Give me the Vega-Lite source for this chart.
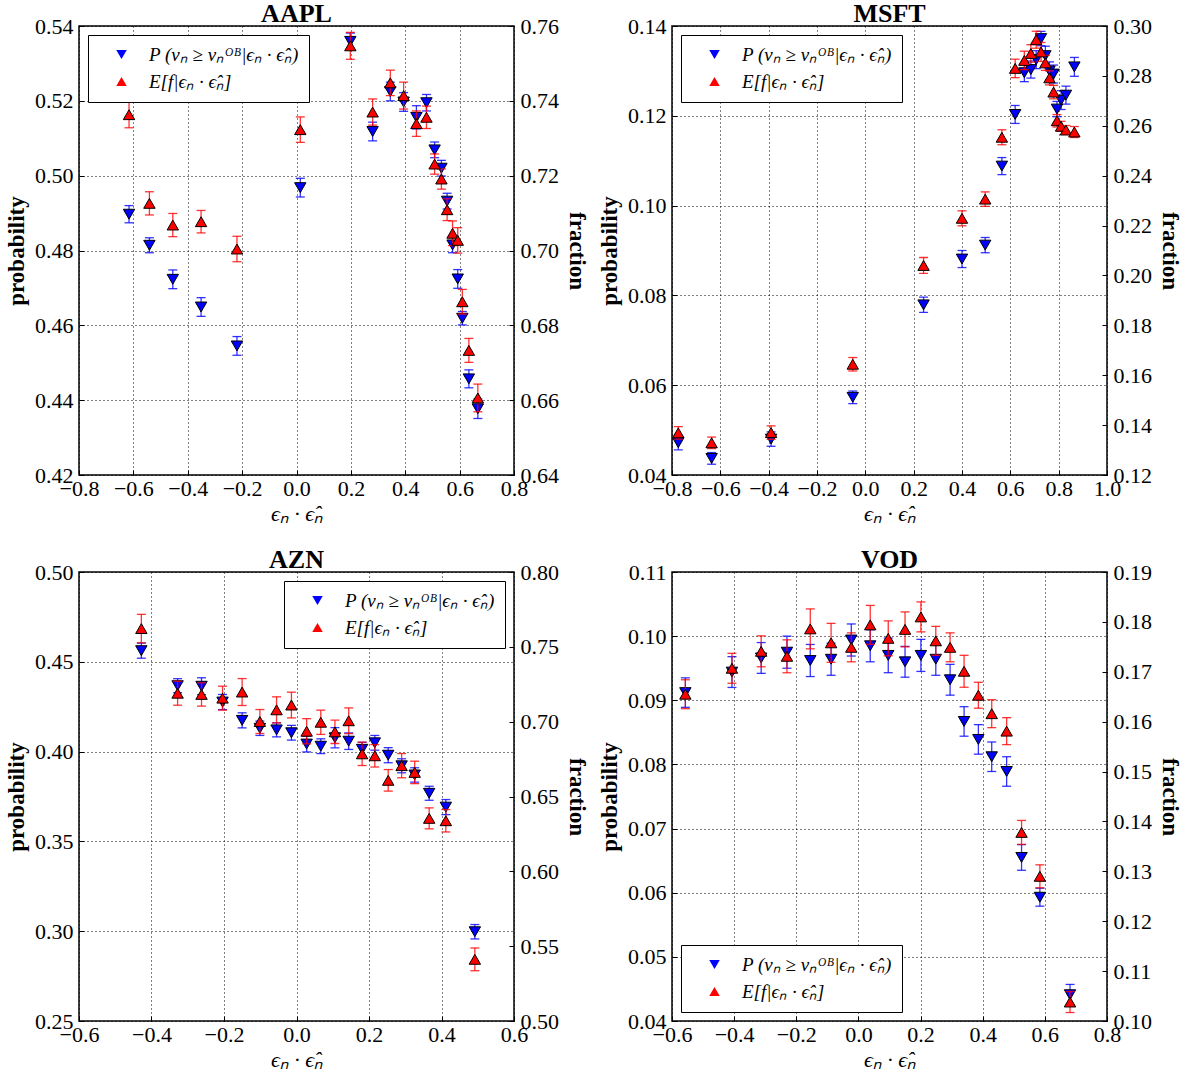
{
"$schema":"https://vega.github.io/schema/vega-lite/v6.json",
"background":"white",
"padding":{"left":4,"top":0,"right":5,"bottom":5},
"datasets":{
"aapl":[
{"x":-0.616,"s":"P","v":0.4897,"e":0.0023},{"x":-0.616,"s":"E","v":0.7363,"e":0.0035},
{"x":-0.541,"s":"P","v":0.4814,"e":0.0020},{"x":-0.541,"s":"E","v":0.7126,"e":0.0031},
{"x":-0.455,"s":"P","v":0.4723,"e":0.0025},{"x":-0.455,"s":"E","v":0.7068,"e":0.0031},
{"x":-0.351,"s":"P","v":0.4649,"e":0.0025},{"x":-0.351,"s":"E","v":0.7077,"e":0.0030},
{"x":-0.219,"s":"P","v":0.4545,"e":0.0025},{"x":-0.219,"s":"E","v":0.7004,"e":0.0034},
{"x":0.014,"s":"P","v":0.4968,"e":0.0025},{"x":0.014,"s":"E","v":0.7323,"e":0.0034},
{"x":0.198,"s":"P","v":0.5359,"e":0.0022},{"x":0.198,"s":"E","v":0.7547,"e":0.0036},
{"x":0.280,"s":"P","v":0.5118,"e":0.0025},{"x":0.280,"s":"E","v":0.7370,"e":0.0035},
{"x":0.345,"s":"P","v":0.5225,"e":0.0025},{"x":0.345,"s":"E","v":0.7448,"e":0.0034},
{"x":0.394,"s":"P","v":0.5197,"e":0.0025},{"x":0.394,"s":"E","v":0.7414,"e":0.0036},
{"x":0.441,"s":"P","v":0.5156,"e":0.0031},{"x":0.441,"s":"E","v":0.7339,"e":0.0034},
{"x":0.478,"s":"P","v":0.5195,"e":0.0022},{"x":0.478,"s":"E","v":0.7356,"e":0.0030},
{"x":0.508,"s":"P","v":0.5069,"e":0.0021},{"x":0.508,"s":"E","v":0.7231,"e":0.0027},
{"x":0.533,"s":"P","v":0.5020,"e":0.0021},{"x":0.533,"s":"E","v":0.7191,"e":0.0027},
{"x":0.554,"s":"P","v":0.4932,"e":0.0021},{"x":0.554,"s":"E","v":0.7109,"e":0.0029},
{"x":0.574,"s":"P","v":0.4815,"e":0.0021},{"x":0.574,"s":"E","v":0.7046,"e":0.0033},
{"x":0.593,"s":"P","v":0.4724,"e":0.0025},{"x":0.593,"s":"E","v":0.7027,"e":0.0034},
{"x":0.610,"s":"P","v":0.4619,"e":0.0018},{"x":0.610,"s":"E","v":0.6863,"e":0.0033},
{"x":0.634,"s":"P","v":0.4457,"e":0.0024},{"x":0.634,"s":"E","v":0.6733,"e":0.0032},
{"x":0.667,"s":"P","v":0.4377,"e":0.0026},{"x":0.667,"s":"E","v":0.6606,"e":0.0037}
],
"msft":[
{"x":-0.774,"s":"P","v":0.0472,"e":0.0016},{"x":-0.774,"s":"E","v":0.1369,"e":0.0025},
{"x":-0.636,"s":"P","v":0.0437,"e":0.0013},{"x":-0.636,"s":"E","v":0.1329,"e":0.0023},
{"x":-0.390,"s":"P","v":0.0480,"e":0.0016},{"x":-0.390,"s":"E","v":0.1370,"e":0.0027},
{"x":-0.052,"s":"P","v":0.0573,"e":0.0014},{"x":-0.052,"s":"E","v":0.1644,"e":0.0027},
{"x":0.241,"s":"P","v":0.0779,"e":0.0017},{"x":0.241,"s":"E","v":0.2040,"e":0.0032},
{"x":0.400,"s":"P","v":0.0881,"e":0.0019},{"x":0.400,"s":"E","v":0.2229,"e":0.0030},
{"x":0.496,"s":"P","v":0.0912,"e":0.0017},{"x":0.496,"s":"E","v":0.2306,"e":0.0029},
{"x":0.565,"s":"P","v":0.1088,"e":0.0019},{"x":0.565,"s":"E","v":0.2554,"e":0.0030},
{"x":0.620,"s":"P","v":0.1203,"e":0.0020},{"x":0.620,"s":"E","v":0.2830,"e":0.0037},
{"x":0.658,"s":"P","v":0.1296,"e":0.0020},{"x":0.658,"s":"E","v":0.2862,"e":0.0037},
{"x":0.685,"s":"P","v":0.1303,"e":0.0019},{"x":0.685,"s":"E","v":0.2890,"e":0.0035},
{"x":0.707,"s":"P","v":0.1325,"e":0.0020},{"x":0.707,"s":"E","v":0.2945,"e":0.0034},
{"x":0.727,"s":"P","v":0.1372,"e":0.0016},{"x":0.727,"s":"E","v":0.2896,"e":0.0038},
{"x":0.745,"s":"P","v":0.1334,"e":0.0021},{"x":0.745,"s":"E","v":0.2852,"e":0.0030},
{"x":0.762,"s":"P","v":0.1300,"e":0.0020},{"x":0.762,"s":"E","v":0.2792,"e":0.0028},
{"x":0.779,"s":"P","v":0.1293,"e":0.0020},{"x":0.779,"s":"E","v":0.2735,"e":0.0027},
{"x":0.793,"s":"P","v":0.1215,"e":0.0017},{"x":0.793,"s":"E","v":0.2620,"e":0.0025},
{"x":0.810,"s":"P","v":0.1235,"e":0.0021},{"x":0.810,"s":"E","v":0.2598,"e":0.0020},
{"x":0.830,"s":"P","v":0.1246,"e":0.0020},{"x":0.830,"s":"E","v":0.2583,"e":0.0018},
{"x":0.865,"s":"P","v":0.1309,"e":0.0021},{"x":0.865,"s":"E","v":0.2575,"e":0.0022}
],
"azn":[
{"x":-0.428,"s":"P","v":0.4562,"e":0.0042},{"x":-0.428,"s":"E","v":0.7622,"e":0.0095},
{"x":-0.328,"s":"P","v":0.4367,"e":0.0039},{"x":-0.328,"s":"E","v":0.7190,"e":0.0080},
{"x":-0.262,"s":"P","v":0.4364,"e":0.0047},{"x":-0.262,"s":"E","v":0.7182,"e":0.0078},
{"x":-0.204,"s":"P","v":0.4276,"e":0.0042},{"x":-0.204,"s":"E","v":0.7157,"e":0.0080},
{"x":-0.150,"s":"P","v":0.4174,"e":0.0042},{"x":-0.150,"s":"E","v":0.7198,"e":0.0090},
{"x":-0.101,"s":"P","v":0.4130,"e":0.0040},{"x":-0.101,"s":"E","v":0.7001,"e":0.0080},
{"x":-0.055,"s":"P","v":0.4121,"e":0.0039},{"x":-0.055,"s":"E","v":0.7079,"e":0.0087},
{"x":-0.014,"s":"P","v":0.4105,"e":0.0041},{"x":-0.014,"s":"E","v":0.7111,"e":0.0086},
{"x":0.028,"s":"P","v":0.4042,"e":0.0044},{"x":0.028,"s":"E","v":0.6936,"e":0.0084},
{"x":0.067,"s":"P","v":0.4030,"e":0.0041},{"x":0.067,"s":"E","v":0.6996,"e":0.0081},
{"x":0.106,"s":"P","v":0.4077,"e":0.0056},{"x":0.106,"s":"E","v":0.6932,"e":0.0078},
{"x":0.144,"s":"P","v":0.4058,"e":0.0046},{"x":0.144,"s":"E","v":0.7006,"e":0.0086},
{"x":0.181,"s":"P","v":0.4013,"e":0.0039},{"x":0.181,"s":"E","v":0.6785,"e":0.0078},
{"x":0.216,"s":"P","v":0.4049,"e":0.0041},{"x":0.216,"s":"E","v":0.6772,"e":0.0075},
{"x":0.253,"s":"P","v":0.3980,"e":0.0042},{"x":0.253,"s":"E","v":0.6608,"e":0.0072},
{"x":0.290,"s":"P","v":0.3921,"e":0.0039},{"x":0.290,"s":"E","v":0.6706,"e":0.0081},
{"x":0.326,"s":"P","v":0.3870,"e":0.0040},{"x":0.326,"s":"E","v":0.6661,"e":0.0075},
{"x":0.366,"s":"P","v":0.3768,"e":0.0039},{"x":0.366,"s":"E","v":0.6354,"e":0.0070},
{"x":0.412,"s":"P","v":0.3691,"e":0.0042},{"x":0.412,"s":"E","v":0.6338,"e":0.0075},
{"x":0.492,"s":"P","v":0.2997,"e":0.0040},{"x":0.492,"s":"E","v":0.5412,"e":0.0076}
],
"vod":[
{"x":-0.557,"s":"P","v":0.0912,"e":0.0023},{"x":-0.557,"s":"E","v":0.1655,"e":0.0029},
{"x":-0.407,"s":"P","v":0.0944,"e":0.0024},{"x":-0.407,"s":"E","v":0.1707,"e":0.0030},
{"x":-0.313,"s":"P","v":0.0966,"e":0.0024},{"x":-0.313,"s":"E","v":0.1741,"e":0.0031},
{"x":-0.230,"s":"P","v":0.0975,"e":0.0025},{"x":-0.230,"s":"E","v":0.1731,"e":0.0033},
{"x":-0.155,"s":"P","v":0.0962,"e":0.0025},{"x":-0.155,"s":"E","v":0.1786,"e":0.0040},
{"x":-0.088,"s":"P","v":0.0964,"e":0.0025},{"x":-0.088,"s":"E","v":0.1758,"e":0.0039},
{"x":-0.023,"s":"P","v":0.0994,"e":0.0025},{"x":-0.023,"s":"E","v":0.1749,"e":0.0029},
{"x":0.038,"s":"P","v":0.0985,"e":0.0025},{"x":0.038,"s":"E","v":0.1794,"e":0.0039},
{"x":0.096,"s":"P","v":0.0970,"e":0.0027},{"x":0.096,"s":"E","v":0.1767,"e":0.0035},
{"x":0.150,"s":"P","v":0.0960,"e":0.0024},{"x":0.150,"s":"E","v":0.1785,"e":0.0035},
{"x":0.201,"s":"P","v":0.0970,"e":0.0025},{"x":0.201,"s":"E","v":0.1810,"e":0.0030},
{"x":0.249,"s":"P","v":0.0964,"e":0.0025},{"x":0.249,"s":"E","v":0.1762,"e":0.0029},
{"x":0.295,"s":"P","v":0.0932,"e":0.0024},{"x":0.295,"s":"E","v":0.1749,"e":0.0029},
{"x":0.340,"s":"P","v":0.0867,"e":0.0023},{"x":0.340,"s":"E","v":0.1701,"e":0.0032},
{"x":0.386,"s":"P","v":0.0839,"e":0.0023},{"x":0.386,"s":"E","v":0.1653,"e":0.0026},
{"x":0.429,"s":"P","v":0.0812,"e":0.0023},{"x":0.429,"s":"E","v":0.1616,"e":0.0028},
{"x":0.477,"s":"P","v":0.0789,"e":0.0023},{"x":0.477,"s":"E","v":0.1581,"e":0.0027},
{"x":0.525,"s":"P","v":0.0655,"e":0.0020},{"x":0.525,"s":"E","v":0.1378,"e":0.0024},
{"x":0.584,"s":"P","v":0.0593,"e":0.0014},{"x":0.584,"s":"E","v":0.1290,"e":0.0023},
{"x":0.681,"s":"P","v":0.0441,"e":0.0016},{"x":0.681,"s":"E","v":0.1038,"e":0.0021}
]
},
"columns":2,
"spacing":{"row":97,"column":158},
"bounds":"flush",
"resolve":{"scale":{"color":"independent","shape":"independent"}},
"concat":[
{"title":"AAPL","width":435,"height":449,"data":{"name":"aapl"},
"layer":[
{"transform":[{"filter":"datum.s==='P'"}],"layer":[
{"mark":{"type":"errorbar","color":"#0000ff","opacity":0.8,"thickness":1.3,"ticks":{"size":9,"thickness":1.3}},
"encoding":{"x":{"field":"x","type":"quantitative","scale":{"domain":[-0.8,0.8],"nice":false,"zero":false},"axis":{"values":[-0.8,-0.6,-0.4,-0.2,0,0.2,0.4,0.6,0.8],"format":".1f","title":"ϵₙ · ϵ̂ₙ"}},
"y":{"field":"v","type":"quantitative","scale":{"domain":[0.42,0.54],"nice":false,"zero":false},"axis":{"orient":"left","grid":true,"values":[0.42,0.44,0.46,0.48,0.5,0.52,0.54],"format":".2f","title":"probability"}},
"yError":{"field":"e"}}},
{"mark":{"type":"point","filled":true,"size":130,"stroke":"black","strokeWidth":1,"opacity":1},
"encoding":{"x":{"field":"x","type":"quantitative","scale":{"domain":[-0.8,0.8],"nice":false,"zero":false},"axis":{"values":[-0.8,-0.6,-0.4,-0.2,0,0.2,0.4,0.6,0.8],"format":".1f","title":"ϵₙ · ϵ̂ₙ"}},
"y":{"field":"v","type":"quantitative","scale":{"domain":[0.42,0.54],"nice":false,"zero":false},"axis":{"orient":"left","grid":true,"values":[0.42,0.44,0.46,0.48,0.5,0.52,0.54],"format":".2f","title":"probability"}},
"color":{"field":"s","type":"nominal","scale":{"domain":["P","E"],"range":["#0000ff","#ff0000"]},"legend":{"orient":"top-left","labelExpr":"datum.value === 'P' ? 'P (vₙ ≥ vₙᴼᴮ|ϵₙ · ϵ̂ₙ)' : 'E[f|ϵₙ · ϵ̂ₙ]'"}},
"shape":{"field":"s","type":"nominal","scale":{"domain":["P","E"],"range":["triangle-down","triangle-up"]},"legend":{"orient":"top-left","labelExpr":"datum.value === 'P' ? 'P (vₙ ≥ vₙᴼᴮ|ϵₙ · ϵ̂ₙ)' : 'E[f|ϵₙ · ϵ̂ₙ]'"}}}}
]},
{"transform":[{"filter":"datum.s==='E'"}],"layer":[
{"mark":{"type":"errorbar","color":"#ff0000","opacity":0.8,"thickness":1.3,"ticks":{"size":9,"thickness":1.3}},
"encoding":{"x":{"field":"x","type":"quantitative","scale":{"domain":[-0.8,0.8],"nice":false,"zero":false},"axis":{"values":[-0.8,-0.6,-0.4,-0.2,0,0.2,0.4,0.6,0.8],"format":".1f","title":"ϵₙ · ϵ̂ₙ"}},
"y":{"field":"v","type":"quantitative","scale":{"domain":[0.64,0.76],"nice":false,"zero":false},"axis":{"orient":"right","grid":false,"values":[0.64,0.66,0.68,0.7,0.72,0.74,0.76],"format":".2f","title":"fraction"}},
"yError":{"field":"e"}}},
{"mark":{"type":"point","filled":true,"size":130,"stroke":"black","strokeWidth":1,"opacity":1},
"encoding":{"x":{"field":"x","type":"quantitative","scale":{"domain":[-0.8,0.8],"nice":false,"zero":false},"axis":{"values":[-0.8,-0.6,-0.4,-0.2,0,0.2,0.4,0.6,0.8],"format":".1f","title":"ϵₙ · ϵ̂ₙ"}},
"y":{"field":"v","type":"quantitative","scale":{"domain":[0.64,0.76],"nice":false,"zero":false},"axis":{"orient":"right","grid":false,"values":[0.64,0.66,0.68,0.7,0.72,0.74,0.76],"format":".2f","title":"fraction"}},
"color":{"field":"s","type":"nominal","scale":{"domain":["P","E"],"range":["#0000ff","#ff0000"]},"legend":{"orient":"top-left","labelExpr":"datum.value === 'P' ? 'P (vₙ ≥ vₙᴼᴮ|ϵₙ · ϵ̂ₙ)' : 'E[f|ϵₙ · ϵ̂ₙ]'"}},
"shape":{"field":"s","type":"nominal","scale":{"domain":["P","E"],"range":["triangle-down","triangle-up"]},"legend":{"orient":"top-left","labelExpr":"datum.value === 'P' ? 'P (vₙ ≥ vₙᴼᴮ|ϵₙ · ϵ̂ₙ)' : 'E[f|ϵₙ · ϵ̂ₙ]'"}}}}
]}
],
"resolve":{"scale":{"y":"independent"}}},
{"title":"MSFT","width":435,"height":449,"data":{"name":"msft"},
"layer":[
{"transform":[{"filter":"datum.s==='P'"}],"layer":[
{"mark":{"type":"errorbar","color":"#0000ff","opacity":0.8,"thickness":1.3,"ticks":{"size":9,"thickness":1.3}},
"encoding":{"x":{"field":"x","type":"quantitative","scale":{"domain":[-0.8,1.0],"nice":false,"zero":false},"axis":{"values":[-0.8,-0.6,-0.4,-0.2,0,0.2,0.4,0.6,0.8,1.0],"format":".1f","title":"ϵₙ · ϵ̂ₙ"}},
"y":{"field":"v","type":"quantitative","scale":{"domain":[0.04,0.14],"nice":false,"zero":false},"axis":{"orient":"left","grid":true,"values":[0.04,0.06,0.08,0.1,0.12,0.14],"format":".2f","title":"probability"}},
"yError":{"field":"e"}}},
{"mark":{"type":"point","filled":true,"size":130,"stroke":"black","strokeWidth":1,"opacity":1},
"encoding":{"x":{"field":"x","type":"quantitative","scale":{"domain":[-0.8,1.0],"nice":false,"zero":false},"axis":{"values":[-0.8,-0.6,-0.4,-0.2,0,0.2,0.4,0.6,0.8,1.0],"format":".1f","title":"ϵₙ · ϵ̂ₙ"}},
"y":{"field":"v","type":"quantitative","scale":{"domain":[0.04,0.14],"nice":false,"zero":false},"axis":{"orient":"left","grid":true,"values":[0.04,0.06,0.08,0.1,0.12,0.14],"format":".2f","title":"probability"}},
"color":{"field":"s","type":"nominal","scale":{"domain":["P","E"],"range":["#0000ff","#ff0000"]},"legend":{"orient":"top-left","labelExpr":"datum.value === 'P' ? 'P (vₙ ≥ vₙᴼᴮ|ϵₙ · ϵ̂ₙ)' : 'E[f|ϵₙ · ϵ̂ₙ]'"}},
"shape":{"field":"s","type":"nominal","scale":{"domain":["P","E"],"range":["triangle-down","triangle-up"]},"legend":{"orient":"top-left","labelExpr":"datum.value === 'P' ? 'P (vₙ ≥ vₙᴼᴮ|ϵₙ · ϵ̂ₙ)' : 'E[f|ϵₙ · ϵ̂ₙ]'"}}}}
]},
{"transform":[{"filter":"datum.s==='E'"}],"layer":[
{"mark":{"type":"errorbar","color":"#ff0000","opacity":0.8,"thickness":1.3,"ticks":{"size":9,"thickness":1.3}},
"encoding":{"x":{"field":"x","type":"quantitative","scale":{"domain":[-0.8,1.0],"nice":false,"zero":false},"axis":{"values":[-0.8,-0.6,-0.4,-0.2,0,0.2,0.4,0.6,0.8,1.0],"format":".1f","title":"ϵₙ · ϵ̂ₙ"}},
"y":{"field":"v","type":"quantitative","scale":{"domain":[0.12,0.30],"nice":false,"zero":false},"axis":{"orient":"right","grid":false,"values":[0.12,0.14,0.16,0.18,0.2,0.22,0.24,0.26,0.28,0.3],"format":".2f","title":"fraction"}},
"yError":{"field":"e"}}},
{"mark":{"type":"point","filled":true,"size":130,"stroke":"black","strokeWidth":1,"opacity":1},
"encoding":{"x":{"field":"x","type":"quantitative","scale":{"domain":[-0.8,1.0],"nice":false,"zero":false},"axis":{"values":[-0.8,-0.6,-0.4,-0.2,0,0.2,0.4,0.6,0.8,1.0],"format":".1f","title":"ϵₙ · ϵ̂ₙ"}},
"y":{"field":"v","type":"quantitative","scale":{"domain":[0.12,0.30],"nice":false,"zero":false},"axis":{"orient":"right","grid":false,"values":[0.12,0.14,0.16,0.18,0.2,0.22,0.24,0.26,0.28,0.3],"format":".2f","title":"fraction"}},
"color":{"field":"s","type":"nominal","scale":{"domain":["P","E"],"range":["#0000ff","#ff0000"]},"legend":{"orient":"top-left","labelExpr":"datum.value === 'P' ? 'P (vₙ ≥ vₙᴼᴮ|ϵₙ · ϵ̂ₙ)' : 'E[f|ϵₙ · ϵ̂ₙ]'"}},
"shape":{"field":"s","type":"nominal","scale":{"domain":["P","E"],"range":["triangle-down","triangle-up"]},"legend":{"orient":"top-left","labelExpr":"datum.value === 'P' ? 'P (vₙ ≥ vₙᴼᴮ|ϵₙ · ϵ̂ₙ)' : 'E[f|ϵₙ · ϵ̂ₙ]'"}}}}
]}
],
"resolve":{"scale":{"y":"independent"}}},
{"title":"AZN","width":435,"height":449,"data":{"name":"azn"},
"layer":[
{"transform":[{"filter":"datum.s==='P'"}],"layer":[
{"mark":{"type":"errorbar","color":"#0000ff","opacity":0.8,"thickness":1.3,"ticks":{"size":9,"thickness":1.3}},
"encoding":{"x":{"field":"x","type":"quantitative","scale":{"domain":[-0.6,0.6],"nice":false,"zero":false},"axis":{"values":[-0.6,-0.4,-0.2,0,0.2,0.4,0.6],"format":".1f","title":"ϵₙ · ϵ̂ₙ"}},
"y":{"field":"v","type":"quantitative","scale":{"domain":[0.25,0.50],"nice":false,"zero":false},"axis":{"orient":"left","grid":true,"values":[0.25,0.3,0.35,0.4,0.45,0.5],"format":".2f","title":"probability"}},
"yError":{"field":"e"}}},
{"mark":{"type":"point","filled":true,"size":130,"stroke":"black","strokeWidth":1,"opacity":1},
"encoding":{"x":{"field":"x","type":"quantitative","scale":{"domain":[-0.6,0.6],"nice":false,"zero":false},"axis":{"values":[-0.6,-0.4,-0.2,0,0.2,0.4,0.6],"format":".1f","title":"ϵₙ · ϵ̂ₙ"}},
"y":{"field":"v","type":"quantitative","scale":{"domain":[0.25,0.50],"nice":false,"zero":false},"axis":{"orient":"left","grid":true,"values":[0.25,0.3,0.35,0.4,0.45,0.5],"format":".2f","title":"probability"}},
"color":{"field":"s","type":"nominal","scale":{"domain":["P","E"],"range":["#0000ff","#ff0000"]},"legend":{"orient":"top-right","labelExpr":"datum.value === 'P' ? 'P (vₙ ≥ vₙᴼᴮ|ϵₙ · ϵ̂ₙ)' : 'E[f|ϵₙ · ϵ̂ₙ]'"}},
"shape":{"field":"s","type":"nominal","scale":{"domain":["P","E"],"range":["triangle-down","triangle-up"]},"legend":{"orient":"top-right","labelExpr":"datum.value === 'P' ? 'P (vₙ ≥ vₙᴼᴮ|ϵₙ · ϵ̂ₙ)' : 'E[f|ϵₙ · ϵ̂ₙ]'"}}}}
]},
{"transform":[{"filter":"datum.s==='E'"}],"layer":[
{"mark":{"type":"errorbar","color":"#ff0000","opacity":0.8,"thickness":1.3,"ticks":{"size":9,"thickness":1.3}},
"encoding":{"x":{"field":"x","type":"quantitative","scale":{"domain":[-0.6,0.6],"nice":false,"zero":false},"axis":{"values":[-0.6,-0.4,-0.2,0,0.2,0.4,0.6],"format":".1f","title":"ϵₙ · ϵ̂ₙ"}},
"y":{"field":"v","type":"quantitative","scale":{"domain":[0.50,0.80],"nice":false,"zero":false},"axis":{"orient":"right","grid":false,"values":[0.5,0.55,0.6,0.65,0.7,0.75,0.8],"format":".2f","title":"fraction"}},
"yError":{"field":"e"}}},
{"mark":{"type":"point","filled":true,"size":130,"stroke":"black","strokeWidth":1,"opacity":1},
"encoding":{"x":{"field":"x","type":"quantitative","scale":{"domain":[-0.6,0.6],"nice":false,"zero":false},"axis":{"values":[-0.6,-0.4,-0.2,0,0.2,0.4,0.6],"format":".1f","title":"ϵₙ · ϵ̂ₙ"}},
"y":{"field":"v","type":"quantitative","scale":{"domain":[0.50,0.80],"nice":false,"zero":false},"axis":{"orient":"right","grid":false,"values":[0.5,0.55,0.6,0.65,0.7,0.75,0.8],"format":".2f","title":"fraction"}},
"color":{"field":"s","type":"nominal","scale":{"domain":["P","E"],"range":["#0000ff","#ff0000"]},"legend":{"orient":"top-right","labelExpr":"datum.value === 'P' ? 'P (vₙ ≥ vₙᴼᴮ|ϵₙ · ϵ̂ₙ)' : 'E[f|ϵₙ · ϵ̂ₙ]'"}},
"shape":{"field":"s","type":"nominal","scale":{"domain":["P","E"],"range":["triangle-down","triangle-up"]},"legend":{"orient":"top-right","labelExpr":"datum.value === 'P' ? 'P (vₙ ≥ vₙᴼᴮ|ϵₙ · ϵ̂ₙ)' : 'E[f|ϵₙ · ϵ̂ₙ]'"}}}}
]}
],
"resolve":{"scale":{"y":"independent"}}},
{"title":"VOD","width":435,"height":449,"data":{"name":"vod"},
"layer":[
{"transform":[{"filter":"datum.s==='P'"}],"layer":[
{"mark":{"type":"errorbar","color":"#0000ff","opacity":0.8,"thickness":1.3,"ticks":{"size":9,"thickness":1.3}},
"encoding":{"x":{"field":"x","type":"quantitative","scale":{"domain":[-0.6,0.8],"nice":false,"zero":false},"axis":{"values":[-0.6,-0.4,-0.2,0,0.2,0.4,0.6,0.8],"format":".1f","title":"ϵₙ · ϵ̂ₙ"}},
"y":{"field":"v","type":"quantitative","scale":{"domain":[0.04,0.11],"nice":false,"zero":false},"axis":{"orient":"left","grid":true,"values":[0.04,0.05,0.06,0.07,0.08,0.09,0.1,0.11],"format":".2f","title":"probability"}},
"yError":{"field":"e"}}},
{"mark":{"type":"point","filled":true,"size":130,"stroke":"black","strokeWidth":1,"opacity":1},
"encoding":{"x":{"field":"x","type":"quantitative","scale":{"domain":[-0.6,0.8],"nice":false,"zero":false},"axis":{"values":[-0.6,-0.4,-0.2,0,0.2,0.4,0.6,0.8],"format":".1f","title":"ϵₙ · ϵ̂ₙ"}},
"y":{"field":"v","type":"quantitative","scale":{"domain":[0.04,0.11],"nice":false,"zero":false},"axis":{"orient":"left","grid":true,"values":[0.04,0.05,0.06,0.07,0.08,0.09,0.1,0.11],"format":".2f","title":"probability"}},
"color":{"field":"s","type":"nominal","scale":{"domain":["P","E"],"range":["#0000ff","#ff0000"]},"legend":{"orient":"bottom-left","labelExpr":"datum.value === 'P' ? 'P (vₙ ≥ vₙᴼᴮ|ϵₙ · ϵ̂ₙ)' : 'E[f|ϵₙ · ϵ̂ₙ]'"}},
"shape":{"field":"s","type":"nominal","scale":{"domain":["P","E"],"range":["triangle-down","triangle-up"]},"legend":{"orient":"bottom-left","labelExpr":"datum.value === 'P' ? 'P (vₙ ≥ vₙᴼᴮ|ϵₙ · ϵ̂ₙ)' : 'E[f|ϵₙ · ϵ̂ₙ]'"}}}}
]},
{"transform":[{"filter":"datum.s==='E'"}],"layer":[
{"mark":{"type":"errorbar","color":"#ff0000","opacity":0.8,"thickness":1.3,"ticks":{"size":9,"thickness":1.3}},
"encoding":{"x":{"field":"x","type":"quantitative","scale":{"domain":[-0.6,0.8],"nice":false,"zero":false},"axis":{"values":[-0.6,-0.4,-0.2,0,0.2,0.4,0.6,0.8],"format":".1f","title":"ϵₙ · ϵ̂ₙ"}},
"y":{"field":"v","type":"quantitative","scale":{"domain":[0.10,0.19],"nice":false,"zero":false},"axis":{"orient":"right","grid":false,"values":[0.1,0.11,0.12,0.13,0.14,0.15,0.16,0.17,0.18,0.19],"format":".2f","title":"fraction"}},
"yError":{"field":"e"}}},
{"mark":{"type":"point","filled":true,"size":130,"stroke":"black","strokeWidth":1,"opacity":1},
"encoding":{"x":{"field":"x","type":"quantitative","scale":{"domain":[-0.6,0.8],"nice":false,"zero":false},"axis":{"values":[-0.6,-0.4,-0.2,0,0.2,0.4,0.6,0.8],"format":".1f","title":"ϵₙ · ϵ̂ₙ"}},
"y":{"field":"v","type":"quantitative","scale":{"domain":[0.10,0.19],"nice":false,"zero":false},"axis":{"orient":"right","grid":false,"values":[0.1,0.11,0.12,0.13,0.14,0.15,0.16,0.17,0.18,0.19],"format":".2f","title":"fraction"}},
"color":{"field":"s","type":"nominal","scale":{"domain":["P","E"],"range":["#0000ff","#ff0000"]},"legend":{"orient":"bottom-left","labelExpr":"datum.value === 'P' ? 'P (vₙ ≥ vₙᴼᴮ|ϵₙ · ϵ̂ₙ)' : 'E[f|ϵₙ · ϵ̂ₙ]'"}},
"shape":{"field":"s","type":"nominal","scale":{"domain":["P","E"],"range":["triangle-down","triangle-up"]},"legend":{"orient":"bottom-left","labelExpr":"datum.value === 'P' ? 'P (vₙ ≥ vₙᴼᴮ|ϵₙ · ϵ̂ₙ)' : 'E[f|ϵₙ · ϵ̂ₙ]'"}}}}
]}
],
"resolve":{"scale":{"y":"independent"}}}
],
"config":{
"font":"Liberation Serif",
"view":{"stroke":"black","strokeWidth":1.5},
"style":{"guide-label":{"font":"Liberation Serif"},"guide-title":{"font":"Liberation Serif"}},
"title":{"font":"Liberation Serif","fontSize":26,"fontWeight":"bold","color":"black","offset":-12,"anchor":"middle","frame":"group"},
"axis":{"domain":false,"labelFont":"Liberation Serif","labelFontSize":22,"labelColor":"black","titleFont":"Liberation Serif","titleFontSize":23,"titleFontWeight":"bold","titleColor":"black","tickColor":"black","tickSize":-5,"tickWidth":1,"labelPadding":11,"gridColor":"black","gridOpacity":1,"gridDash":[1,3],"gridWidth":1,"labelFlush":false,"labelOverlap":false,"labelBound":false,"titlePadding":6},
"axisX":{"titleFontWeight":"normal","titleFontStyle":"italic","titleFontSize":22,"labelPadding":8,"titlePadding":4},
"legend":{"title":null,"offset":9,"padding":10,"strokeColor":"black","fillColor":"white","cornerRadius":0,"labelFont":"Liberation Serif","labelFontSize":19,"labelFontStyle":"italic","labelColor":"black","symbolSize":110,"symbolStrokeColor":"black","symbolStrokeWidth":1,"symbolOpacity":1,"rowPadding":7,"symbolOffset":14,"labelOffset":18}
}
}
